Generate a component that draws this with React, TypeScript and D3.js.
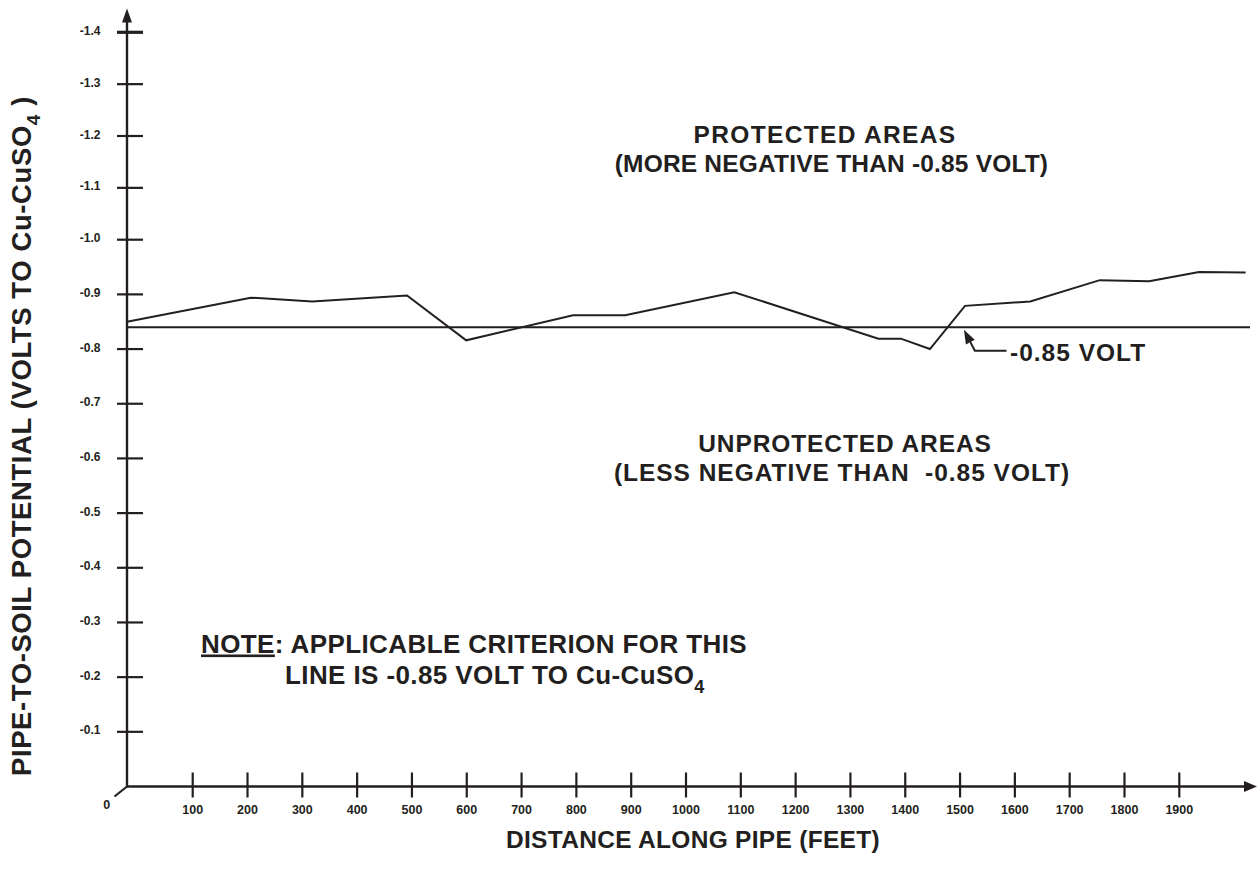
import React from "react";
import * as d3 from "d3";

// ---- data ----
const distanceFeet = [0, 206, 318, 491, 599, 794, 889, 1088, 1351, 1392, 1445, 1509, 1628, 1755, 1845, 1936, 2021];
const potentialVolts = [-0.85, -0.894, -0.887, -0.898, -0.816, -0.862, -0.862, -0.904, -0.819, -0.819, -0.8, -0.879, -0.887, -0.926, -0.924, -0.941, -0.94];
const criterionVolts = -0.84;
const xTickValues = [100, 200, 300, 400, 500, 600, 700, 800, 900, 1000, 1100, 1200, 1300, 1400, 1500, 1600, 1700, 1800, 1900];
const yTickValues = [-0.1, -0.2, -0.3, -0.4, -0.5, -0.6, -0.7, -0.8, -0.9, -1.0, -1.1, -1.2, -1.3, -1.4];

const INK = "#231f20";
const FONT = "'Liberation Sans', Arial, Helvetica, sans-serif";

export default function App() {
  const W = 1260;
  const H = 871;
  const axisX0 = 127;
  const axisY0 = 786.5;

  // broken-axis scales (origin is offset from the 0 value)
  const x = d3.scaleLinear().domain([0, 100, 1900]).range([axisX0, 192.7, 1179.3]);
  const y = d3.scaleLinear().domain([0, -1.0, -1.4]).range([axisY0, 239.7, 32.3]);

  const pts = distanceFeet.map((d, i) => [d, potentialVolts[i]] as [number, number]);
  const line = d3
    .line<[number, number]>()
    .x((d) => x(d[0]))
    .y((d) => y(d[1]));

  const critY = y(criterionVolts);
  const xEnd = 1257;
  const yTop = 8.5;

  // annotation arrow geometry derived from scales
  const tipX = x(1507);
  const tipY = critY + 2.5;
  const kneeX = x(1527);
  const kneeY = y(-0.8) + 1.7;
  const dx = kneeX - tipX;
  const dy = kneeY - tipY;
  const len = Math.hypot(dx, dy);
  const ux = dx / len;
  const uy = dy / len;
  const headL = 14;
  const headW = 5;
  const bx = tipX + ux * headL;
  const by = tipY + uy * headL;
  const head = `M${tipX},${tipY} L${bx - uy * headW},${by + ux * headW} L${bx + uy * headW},${by - ux * headW} Z`;

  return (
    <svg
      width={W}
      height={H}
      viewBox={`0 0 ${W} ${H}`}
      style={{ position: "absolute", left: 0, top: 0, background: "#fff" }}
      fontFamily={FONT}
      fontWeight="bold"
      fill={INK}
    >
      <rect width={W} height={H} fill="#fff" />

      {/* Y axis */}
      <line x1={axisX0} y1={axisY0} x2={axisX0} y2={yTop + 12} stroke={INK} strokeWidth={2.4} />
      <path d={`M${axisX0},${yTop} L${axisX0 - 5},${yTop + 14} L${axisX0 + 5},${yTop + 14} Z`} fill={INK} />
      {yTickValues.map((v) => (
        <g key={v}>
          <line
            x1={axisX0 - 10}
            x2={axisX0 + 16}
            y1={y(v)}
            y2={y(v)}
            stroke={INK}
            strokeWidth={v === -1.4 ? 3.2 : 2.2}
          />
          <text x={100.5} y={y(v) + 2.6} fontSize={12} textAnchor="end">
            {d3.format(".1f")(v).replace("−", "-")}
          </text>
        </g>
      ))}

      {/* X axis */}
      <line x1={axisX0} y1={axisY0} x2={xEnd - 10} y2={axisY0} stroke={INK} strokeWidth={2.4} />
      <path d={`M${xEnd},${axisY0} L${xEnd - 13},${axisY0 - 5.5} L${xEnd - 13},${axisY0 + 5.5} Z`} fill={INK} />
      <line x1={axisX0} y1={axisY0} x2={114.5} y2={796.5} stroke={INK} strokeWidth={2.2} />
      <text x={106.7} y={809} fontSize={12.5} textAnchor="middle">0</text>
      {xTickValues.map((v) => (
        <g key={v}>
          <line x1={x(v)} x2={x(v)} y1={axisY0 - 14} y2={axisY0 + 11} stroke={INK} strokeWidth={2.2} />
          <text x={x(v)} y={814} fontSize={12.5} textAnchor="middle">
            {v}
          </text>
        </g>
      ))}

      {/* criterion line */}
      <line x1={axisX0} x2={1250} y1={critY} y2={critY} stroke={INK} strokeWidth={2} />

      {/* potential profile */}
      <path d={line(pts) || ""} fill="none" stroke={INK} strokeWidth={2} strokeLinejoin="miter" />

      {/* -0.85 VOLT annotation */}
      <polyline
        points={`${1006.5},${kneeY} ${kneeX},${kneeY} ${bx},${by}`}
        fill="none"
        stroke={INK}
        strokeWidth={2}
      />
      <path d={head} fill={INK} />
      <text x={1010} y={360.7} fontSize={24.5} letterSpacing={1.0}>
        -0.85 VOLT
      </text>

      {/* region labels */}
      <text x={825} y={143.3} fontSize={24.5} letterSpacing={1.35} textAnchor="middle">
        PROTECTED AREAS
      </text>
      <text x={831.5} y={171.7} fontSize={24.5} letterSpacing={0.18} textAnchor="middle">
        (MORE NEGATIVE THAN -0.85 VOLT)
      </text>
      <text x={845} y={451.5} fontSize={24.5} letterSpacing={0.9} textAnchor="middle">
        UNPROTECTED AREAS
      </text>
      <text x={842} y={480.5} fontSize={24.5} letterSpacing={0.97} textAnchor="middle" style={{ whiteSpace: "pre" }}>
        {"(LESS NEGATIVE THAN  -0.85 VOLT)"}
      </text>

      {/* note */}
      <text x={201} y={652.5} fontSize={26} letterSpacing={0.4}>
        <tspan textDecoration="underline">NOTE</tspan>
        <tspan>: APPLICABLE CRITERION FOR THIS</tspan>
      </text>
      <text x={285} y={684} fontSize={26} letterSpacing={0.4}>
        <tspan>LINE IS -0.85 VOLT TO Cu-CuSO</tspan>
        <tspan fontSize={18} dy={9}>4</tspan>
      </text>

      {/* axis titles */}
      <text x={693} y={848} fontSize={24.5} textAnchor="middle" letterSpacing={0.3}>
        DISTANCE ALONG PIPE (FEET)
      </text>
      <text
        transform={`translate(31,436) rotate(-90)`}
        fontSize={27.5}
        textAnchor="middle"
        letterSpacing={0.6}
        style={{ whiteSpace: "pre" }}
      >
        <tspan>PIPE-TO-SOIL POTENTIAL (VOLTS TO Cu-CuSO</tspan>
        <tspan fontSize={19} dy={9}>4</tspan>
        <tspan dy={-9}>{" )"}</tspan>
      </text>
    </svg>
  );
}
